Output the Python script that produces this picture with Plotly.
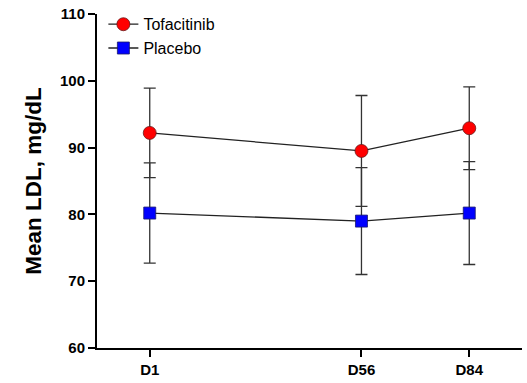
import plotly.graph_objects as go

days = [1, 56, 84]
tick_labels = ["D1", "D56", "D84"]
tofa_mean = [92.2, 89.5, 92.9]
tofa_sd = [6.7, 8.3, 6.2]
placebo_mean = [80.2, 79.0, 80.2]
placebo_sd = [7.5, 8.0, 7.7]

fig = go.Figure()
fig.add_trace(go.Scatter(
    x=days, y=placebo_mean, name="Placebo", mode="lines+markers",
    line=dict(color="#222222", width=1.3),
    marker=dict(symbol="square", size=12, color="#0000ff", line=dict(color="#1a1a6a", width=0.8)),
    error_y=dict(type="data", array=placebo_sd, visible=True, color="#333333", thickness=1.3, width=6),
))
fig.add_trace(go.Scatter(
    x=days, y=tofa_mean, name="Tofacitinib", mode="lines+markers",
    line=dict(color="#222222", width=1.3),
    marker=dict(symbol="circle", size=13, color="#ff0000", line=dict(color="#6a1a1a", width=0.8)),
    error_y=dict(type="data", array=tofa_sd, visible=True, color="#333333", thickness=1.3, width=6),
))

fig.update_layout(
    width=527, height=383,
    margin=dict(l=97, r=5, t=14, b=32),
    plot_bgcolor="white", paper_bgcolor="white",
    font=dict(family="Liberation Sans, Arial, sans-serif", color="black"),
    legend=dict(x=0.015, y=1.02, xanchor="left", yanchor="top", traceorder="reversed",
                font=dict(size=16), bgcolor="rgba(0,0,0,0)", itemwidth=30,
                tracegroupgap=0),
    showlegend=True,
)
fig.update_xaxes(
    range=[-12.7, 97.7], tickvals=days, ticktext=tick_labels,
    showline=True, linecolor="black", linewidth=2, ticks="outside", ticklen=7,
    tickwidth=2, tickcolor="black", showgrid=False, zeroline=False,
    tickfont=dict(size=15, family="Liberation Sans, Arial, sans-serif", weight="bold"),
)
fig.update_yaxes(
    range=[60, 110], tickvals=[60, 70, 80, 90, 100, 110],
    showline=True, linecolor="black", linewidth=2, ticks="outside", ticklen=7,
    tickwidth=2, tickcolor="black", showgrid=False, zeroline=False,
    tickfont=dict(size=15, family="Liberation Sans, Arial, sans-serif", weight="bold"),
    title=dict(text="Mean LDL, mg/dL", standoff=12,
               font=dict(size=22.5, family="Liberation Sans, Arial, sans-serif", weight="bold")),
)

fig.write_html("out.html")
